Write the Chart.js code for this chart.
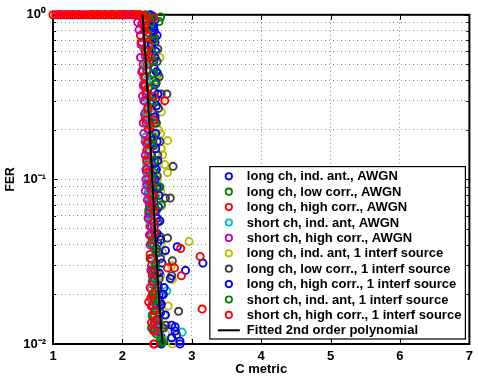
<!DOCTYPE html>
<html>
<head>
<meta charset="utf-8">
<script src="https://cdn.jsdelivr.net/npm/chart.js@4.4.1/dist/chart.umd.min.js"></script>
<style>
  html, body { margin: 0; padding: 0; background: #fff; }
  #wrap { width: 478px; height: 385px; }
</style>
</head>
<body>
<div id="wrap"><canvas id="chart" width="478" height="385"></canvas></div>
<script>
// series labels, in legend order
const seriesNames = [
  "long ch, ind. ant., AWGN",
  "long ch, low corr., AWGN",
  "long ch, high corr., AWGN",
  "short ch, ind. ant, AWGN",
  "short ch, high corr., AWGN",
  "long ch, ind. ant, 1 interf source",
  "long ch, low corr., 1 interf source",
  "long ch, high corr., 1 interf source",
  "short ch, ind. ant, 1 interf source",
  "short ch, high corr., 1 interf source",
];
const fitName = "Fitted 2nd order polynomial";

// MATLAB line colour order
const seriesColors = ["#0000ff", "#008000", "#ff0000", "#00bfbf", "#bf00bf",
  "#bfbf00", "#404040", "#0000ff", "#008000", "#ff0000"];

// [C metric, FER] pairs
const longIndAwgn = [[2.40,1],[2.44,0.98],[2.41,0.94],[2.47,0.93],[2.42,0.86],[2.45,0.83],[2.46,0.8],
  [2.44,0.72],[2.47,0.68],[2.42,0.66],[2.48,0.6],[2.43,0.57],[2.45,0.52],[2.46,0.47],[2.42,0.43],
  [2.49,0.39],[2.46,0.34],[2.48,0.31],[2.44,0.29],[2.45,0.25],[2.47,0.23],[2.43,0.19],[2.45,0.16],
  [2.42,0.14],[2.47,0.125],[2.46,0.115],[2.44,0.105],[2.43,0.096],[2.49,0.088],[2.47,0.08],
  [2.46,0.072],[2.49,0.065],[2.5,0.058],[2.46,0.052],[2.48,0.046],[2.51,0.041],[2.52,0.036],
  [2.48,0.031],[2.5,0.027],[2.51,0.023],[2.53,0.02],[2.54,0.018],[2.55,0.0155],[2.52,0.014],
  [2.57,0.0125],[2.56,0.011]];
const longLowAwgn = [[1.55,1],[1.65,1],[1.75,1],[1.85,1],[1.95,1],[2.05,1],[2.15,1],[2.25,1],[2.33,1],
  [2.38,0.97],[2.55,0.97],[2.43,0.95],[2.53,0.91],[2.38,0.84],[2.36,0.78],[2.4,0.7],[2.36,0.62],
  [2.39,0.52],[2.35,0.46],[2.51,0.44],[2.41,0.4],[2.37,0.36],[2.4,0.29],[2.36,0.25],[2.38,0.2],
  [2.4,0.18],[2.41,0.16],[2.38,0.135],[2.35,0.115],[2.42,0.105],[2.39,0.093],[2.37,0.082],
  [2.43,0.075],[2.44,0.068],[2.41,0.06],[2.4,0.052],[2.42,0.045],[2.45,0.039],[2.4,0.033],
  [2.43,0.028],[2.44,0.024],[2.47,0.02],[2.42,0.017],[2.46,0.015],[2.45,0.013],[2.49,0.0115],
  [2.6,0.0105]];
const longHighAwgn = [[1.0,1],[1.08,1],[1.16,1],[1.24,1],[1.32,1],[1.4,1],[1.48,1],[1.56,1],[1.64,1],
  [1.72,1],[1.8,1],[1.88,1],[1.96,1],[2.04,1],[2.12,1],[2.2,1],[2.27,0.98],[2.31,0.95],[2.3,0.92],
  [2.28,0.88],[2.32,0.8],[2.26,0.75],[2.27,0.68],[2.35,0.6],[2.33,0.56],[2.3,0.5],[2.29,0.46],
  [2.33,0.42],[2.31,0.38],[2.34,0.34],[2.32,0.3],[2.36,0.27],[2.33,0.24],[2.34,0.22],[2.37,0.2],
  [2.33,0.17],[2.35,0.15],[2.36,0.135],[2.38,0.125],[2.35,0.11],[2.37,0.1],[2.38,0.092],
  [2.4,0.082],[2.39,0.074],[2.41,0.066],[2.38,0.059],[2.4,0.052],[2.41,0.046],[2.43,0.04],
  [2.4,0.035],[2.42,0.03],[2.43,0.026],[2.44,0.023],[2.41,0.019],[2.42,0.017],[2.44,0.0145],
  [2.45,0.012],[2.46,0.01]];
const shortIndAwgn = [[2.31,0.62],[2.33,0.5],[2.35,0.4],[2.34,0.31],[2.34,0.26],[2.36,0.22],
  [2.33,0.18],[2.38,0.16],[2.37,0.145],[2.35,0.125],[2.36,0.105],[2.37,0.095],[2.38,0.086],
  [2.39,0.078],[2.41,0.07],[2.42,0.062],[2.4,0.055],[2.43,0.045],[2.44,0.04],[2.47,0.035],
  [2.46,0.031],[2.45,0.027],[2.48,0.024],[2.42,0.0215],[2.64,0.021],[2.47,0.018],[2.5,0.016],
  [2.52,0.0135],[2.53,0.0115],[2.86,0.0118]];
const shortHighAwgn = [[1.1,1],[1.19,1],[1.28,1],[1.37,1],[2.02,1],[2.14,1],[2.22,0.9],[2.24,0.81],
  [2.27,0.66],[2.26,0.55],[2.28,0.45],[2.3,0.37],[2.29,0.32],[2.31,0.3],[2.32,0.25],[2.3,0.22],
  [2.31,0.19],[2.35,0.165],[2.33,0.14],[2.34,0.115],[2.34,0.1],[2.35,0.093],[2.33,0.085],
  [2.36,0.075],[2.39,0.069],[2.38,0.062],[2.37,0.058],[2.42,0.052],[2.39,0.046],[2.4,0.04],
  [2.42,0.033],[2.41,0.028],[2.43,0.024],[2.44,0.02],[2.44,0.017],[2.47,0.016],[2.46,0.0135],
  [2.45,0.0123]];
const longIndInterf = [[2.54,0.55],[2.5,0.4],[2.53,0.3],[2.56,0.257],[2.42,0.25],[2.52,0.2],
  [2.55,0.19],[2.65,0.172],[2.56,0.154],[2.58,0.141],[2.52,0.125],[2.61,0.123],[2.65,0.11],
  [2.5,0.1],[2.55,0.085],[2.56,0.069],[2.53,0.055],[2.56,0.041],[2.96,0.042],[2.58,0.036],
  [2.71,0.03],[2.55,0.026],[2.72,0.0246],[2.5,0.021],[2.66,0.017],[2.6,0.015],[2.64,0.013],
  [2.62,0.0115],[2.72,0.01]];
const longLowInterf = [[2.47,0.72],[2.51,0.62],[2.5,0.52],[2.53,0.42],[2.56,0.33],[2.64,0.33],
  [2.52,0.27],[2.49,0.22],[2.54,0.17],[2.51,0.14],[2.73,0.12],[2.5,0.105],[2.53,0.09],
  [2.69,0.077],[2.62,0.077],[2.47,0.065],[2.51,0.055],[2.54,0.045],[2.65,0.044],[2.49,0.038],
  [2.55,0.033],[2.72,0.032],[2.47,0.028],[2.71,0.026],[2.53,0.025],[2.52,0.022],[2.57,0.02],
  [2.52,0.0185],[2.55,0.017],[2.81,0.0158],[2.62,0.013],[2.59,0.0125],[2.78,0.0114]];
const longHighInterf = [[2.45,0.85],[2.5,0.75],[2.42,0.66],[2.47,0.55],[2.49,0.45],[2.48,0.38],
  [2.51,0.33],[2.49,0.28],[2.47,0.24],[2.48,0.19],[2.5,0.17],[2.48,0.154],[2.51,0.13],
  [2.49,0.115],[2.47,0.1],[2.5,0.09],[2.53,0.08],[2.52,0.068],[2.54,0.056],[2.5,0.047],
  [2.55,0.043],[2.79,0.039],[2.62,0.037],[2.57,0.031],[3.16,0.031],[2.91,0.028],[2.53,0.027],
  [2.69,0.025],[2.6,0.022],[2.59,0.02],[2.56,0.0175],[2.62,0.015],[2.71,0.013],[2.76,0.0127],
  [2.76,0.012],[2.71,0.0109],[2.83,0.0104],[2.56,0.01],[2.83,0.01]];
const shortIndInterf = [[2.41,0.9],[2.45,0.7],[2.42,0.6],[2.44,0.52],[2.45,0.44],[2.47,0.38],
  [2.44,0.3],[2.46,0.22],[2.44,0.18],[2.43,0.16],[2.46,0.13],[2.45,0.11],[2.42,0.093],[2.54,0.09],
  [2.47,0.078],[2.56,0.07],[2.38,0.065],[2.45,0.055],[2.47,0.047],[2.42,0.041],[2.49,0.036],
  [2.48,0.03],[2.45,0.025],[2.47,0.021],[2.45,0.019],[2.49,0.017],[2.43,0.015],[2.52,0.013],
  [2.42,0.0125],[2.55,0.0106],[2.58,0.0103],[2.56,0.0102]];
const shortHighInterf = [[1.04,1],[1.12,1],[1.2,1],[1.28,1],[1.36,1],[1.44,1],[1.52,1],[1.6,1],[1.68,1],
  [1.76,1],[1.84,1],[1.92,1],[2.0,1],[2.08,1],[2.16,1],[2.24,1],[2.3,0.99],[2.34,0.94],[2.45,0.96],
  [2.32,0.86],[2.35,0.75],[2.28,0.68],[2.38,0.66],[2.33,0.6],[2.4,0.55],[2.36,0.5],[2.31,0.42],
  [2.33,0.37],[2.34,0.33],[2.61,0.3],[2.45,0.32],[2.37,0.27],[2.35,0.23],[2.45,0.23],[2.4,0.21],
  [2.37,0.17],[2.38,0.15],[2.35,0.13],[2.39,0.11],[2.41,0.095],[2.44,0.08],[2.42,0.072],
  [2.45,0.064],[2.45,0.055],[2.47,0.048],[2.43,0.043],[2.84,0.038],[3.12,0.034],[2.42,0.033],
  [2.75,0.029],[2.65,0.029],[2.44,0.027],[2.85,0.026],[2.4,0.022],[2.43,0.02],[2.38,0.018],
  [2.46,0.016],[3.15,0.0163],[2.48,0.014],[2.42,0.0135],[2.47,0.012],[2.45,0.01]];

const seriesPoints = [longIndAwgn, longLowAwgn, longHighAwgn, shortIndAwgn, shortHighAwgn,
  longIndInterf, longLowInterf, longHighInterf, shortIndInterf, shortHighInterf];

// fitted polynomial, sampled
const fitC = [2.29, 2.315, 2.34, 2.37, 2.40, 2.43, 2.47, 2.51, 2.545, 2.58];
const fitFER = [1, 0.7, 0.5, 0.3, 0.18, 0.1, 0.05, 0.025, 0.015, 0.01];

// axes
const xTicks = [1, 2, 3, 4, 5, 6, 7];
const yTickValues = [0.01, 0.1, 1];
const yTickLabels = ["10\u207B\u00B2", "10\u207B\u00B9", "10\u2070"];
const yGridValues = [0.01,0.02,0.03,0.04,0.05,0.06,0.07,0.08,0.09,0.1,0.2,0.3,0.4,0.5,0.6,0.7,0.8,0.9,1];

const FONT = "'Liberation Sans', Arial, Helvetica, sans-serif";

const datasets = seriesPoints.map((pts, i) => ({
  label: seriesNames[i],
  data: pts,
  borderColor: seriesColors[i],
  backgroundColor: "rgba(0,0,0,0)",
  pointRadius: 3.6,
  pointBorderWidth: 1.9,
  showLine: false,
  clip: false,
  order: 20 - i,
}));
datasets.push({
  label: fitName,
  data: fitC.map((c, i) => [c, fitFER[i]]),
  borderColor: "#000",
  borderWidth: 2,
  pointRadius: 0,
  showLine: true,
  tension: 0,
  clip: false,
  order: 0,
});

// box round the plot, inward ticks (drawn under the markers, as MATLAB does)
const axisBox = {
  id: "axisBox",
  beforeDatasetsDraw(chart) {
    const { ctx, chartArea: a, scales } = chart;
    ctx.save();
    ctx.strokeStyle = "#000";
    ctx.lineWidth = 1;
    ctx.beginPath();
    xTicks.forEach(v => {
      const x = Math.round(scales.x.getPixelForValue(v)) + 0.5;
      ctx.moveTo(x, a.bottom); ctx.lineTo(x, a.bottom - 5);
      ctx.moveTo(x, a.top); ctx.lineTo(x, a.top + 5);
    });
    yGridValues.forEach(v => {
      const y = Math.round(scales.y.getPixelForValue(v)) + 0.5;
      const len = yTickValues.includes(v) ? 5 : 3;
      ctx.moveTo(a.left, y); ctx.lineTo(a.left + len, y);
      ctx.moveTo(a.right, y); ctx.lineTo(a.right - len, y);
    });
    ctx.stroke();
    ctx.lineWidth = 2;
    ctx.strokeRect(a.left, a.top, a.right - a.left, a.bottom - a.top);
    ctx.restore();
  },
};

// legend box in the lower right corner of the axes
const boxLegend = {
  id: "boxLegend",
  afterDraw(chart) {
    const { ctx, chartArea: a } = chart;
    const sets = chart.data.datasets;
    const rowH = 15.4;
    ctx.save();
    ctx.font = "bold 13px " + FONT;
    let textW = 0;
    sets.forEach(d => { textW = Math.max(textW, ctx.measureText(d.label).width); });
    const w = 37 + textW + 4;
    const h = sets.length * rowH + 3;
    const right = a.right - 4, bottom = a.bottom - 5;
    const left = right - w, top = bottom - h;
    ctx.fillStyle = "#fff";
    ctx.fillRect(left, top, w, h);
    ctx.strokeStyle = "#000";
    ctx.lineWidth = 1.2;
    ctx.strokeRect(left, top, w, h);
    ctx.textBaseline = "middle";
    ctx.textAlign = "left";
    sets.forEach((d, i) => {
      const y = top + 2 + rowH * (i + 0.5);
      ctx.strokeStyle = d.borderColor;
      if (d.showLine) {
        ctx.lineWidth = 2;
        ctx.beginPath();
        ctx.moveTo(left + 8, y); ctx.lineTo(left + 30, y);
        ctx.stroke();
      } else {
        ctx.lineWidth = 1.8;
        ctx.beginPath();
        ctx.arc(left + 19, y, 3.2, 0, Math.PI * 2);
        ctx.stroke();
      }
      ctx.fillStyle = "#000";
      ctx.fillText(d.label, left + 37, y + 0.5);
    });
    ctx.restore();
  },
};

new Chart(document.getElementById("chart"), {
  type: "scatter",
  data: { datasets },
  plugins: [axisBox, boxLegend],
  options: {
    responsive: false,
    animation: false,
    events: [],
    layout: { padding: { top: 12, right: 3, bottom: 4, left: 0 } },
    plugins: { legend: { display: false }, tooltip: { enabled: false } },
    scales: {
      x: {
        type: "linear",
        min: 1,
        max: 7,
        afterBuildTicks: s => { s.ticks = xTicks.map(v => ({ value: v })); },
        afterFit: s => { s.height = 37; },
        ticks: { color: "#000", padding: 5, font: { family: FONT, size: 13, weight: "bold" } },
        grid: { color: "rgba(0,0,0,0.45)", lineWidth: 1, drawTicks: false },
        border: { display: false, dash: [1, 3] },
        title: { display: true, text: "C metric", color: "#000", padding: { top: 0, bottom: 4 },
          font: { family: FONT, size: 13, weight: "bold" } },
      },
      y: {
        type: "logarithmic",
        min: 0.01,
        max: 1,
        afterBuildTicks: s => { s.ticks = yGridValues.map(v => ({ value: v })); },
        afterFit: s => { s.width = 53; },
        ticks: {
          color: "#000",
          padding: 7,
          autoSkip: false,
          font: { family: FONT, size: 13, weight: "bold" },
          callback: v => {
            const k = yTickValues.indexOf(v);
            return k >= 0 ? yTickLabels[k] : "";
          },
        },
        grid: { color: "rgba(0,0,0,0.45)", lineWidth: 1, drawTicks: false },
        border: { display: false, dash: [1, 3] },
        title: { display: true, text: "FER", color: "#000", padding: { top: 3, bottom: 0 },
          font: { family: FONT, size: 12, weight: "bold" } },
      },
    },
  },
});
</script>
</body>
</html>
